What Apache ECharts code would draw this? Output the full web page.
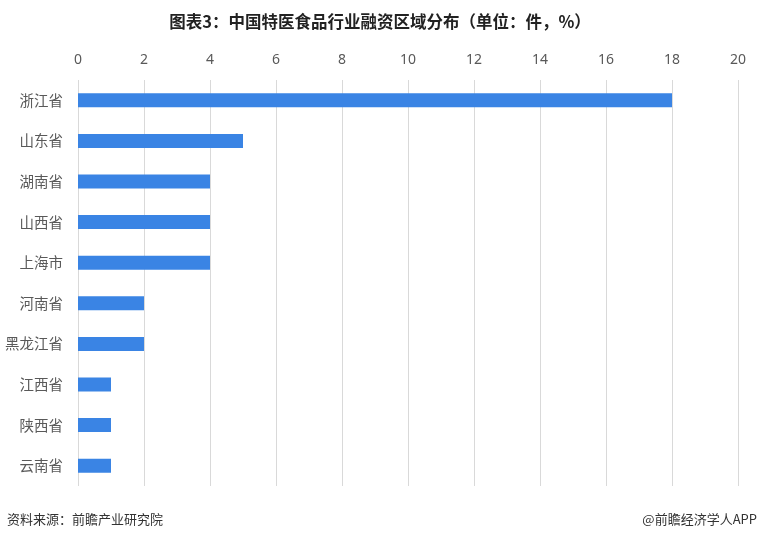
<!DOCTYPE html>
<html>
<head>
<meta charset="utf-8">
<script src="https://cdn.jsdelivr.net/npm/echarts@6/dist/echarts.min.js"></script>
<style>
  html, body { margin: 0; padding: 0; background: #fff; }
  #chart { width: 760px; height: 541px; }
</style>
</head>
<body>
<div id="chart"></div>
<script>
// categories top to bottom
const provinces = ['浙江省', '山东省', '湖南省', '山西省', '上海市', '河南省', '黑龙江省', '江西省', '陕西省', '云南省']
const counts = [18, 5, 4, 4, 4, 2, 2, 1, 1, 1]

const titleText = '图表3：中国特医食品行业融资区域分布（单位：件，%）'
const sourceText = '资料来源：前瞻产业研究院'
const brandText = '@前瞻经济学人APP'

var chart = echarts.init(document.getElementById('chart'))
chart.setOption({
    animation: false,
    backgroundColor: '#fff',
    title: {
        text: titleText,
        left: 'center',
        top: 8,
        textStyle: { fontSize: 16.5, fontWeight: 'bold', color: '#222', fontFamily: 'Noto Sans CJK SC' }
    },
    graphic: [
        {
            type: 'text', left: 7, top: 513,
            style: { text: sourceText, fontSize: 13, fill: '#333', fontFamily: 'Noto Sans CJK SC' }
        },
        {
            type: 'text', right: 3, top: 513,
            style: { text: brandText, fontSize: 13, fill: '#333', fontFamily: 'Noto Sans CJK SC' }
        }
    ],
    grid: {
        left: 78,
        right: 22,
        top: 80,
        bottom: 55
    },
    xAxis: {
        type: 'value',
        position: 'top',
        min: 0,
        max: 20,
        interval: 2,
        axisLine: { show: false },
        axisTick: { show: false },
        axisLabel: { color: '#595959', fontSize: 14, margin: 13, fontFamily: 'Noto Sans' },
        splitLine: { lineStyle: { color: '#d9d9d9', width: 1 } }
    },
    yAxis: {
        type: 'category',
        inverse: true,
        data: provinces,
        axisLine: { show: false },
        axisTick: { show: false },
        axisLabel: { color: '#595959', fontSize: 14.5, margin: 15, fontFamily: 'Noto Sans CJK SC' }
    },
    series: [{
        type: 'bar',
        data: counts,
        barWidth: 14,
        itemStyle: { color: '#3a84e4' }
    }]
})
</script>
</body>
</html>
